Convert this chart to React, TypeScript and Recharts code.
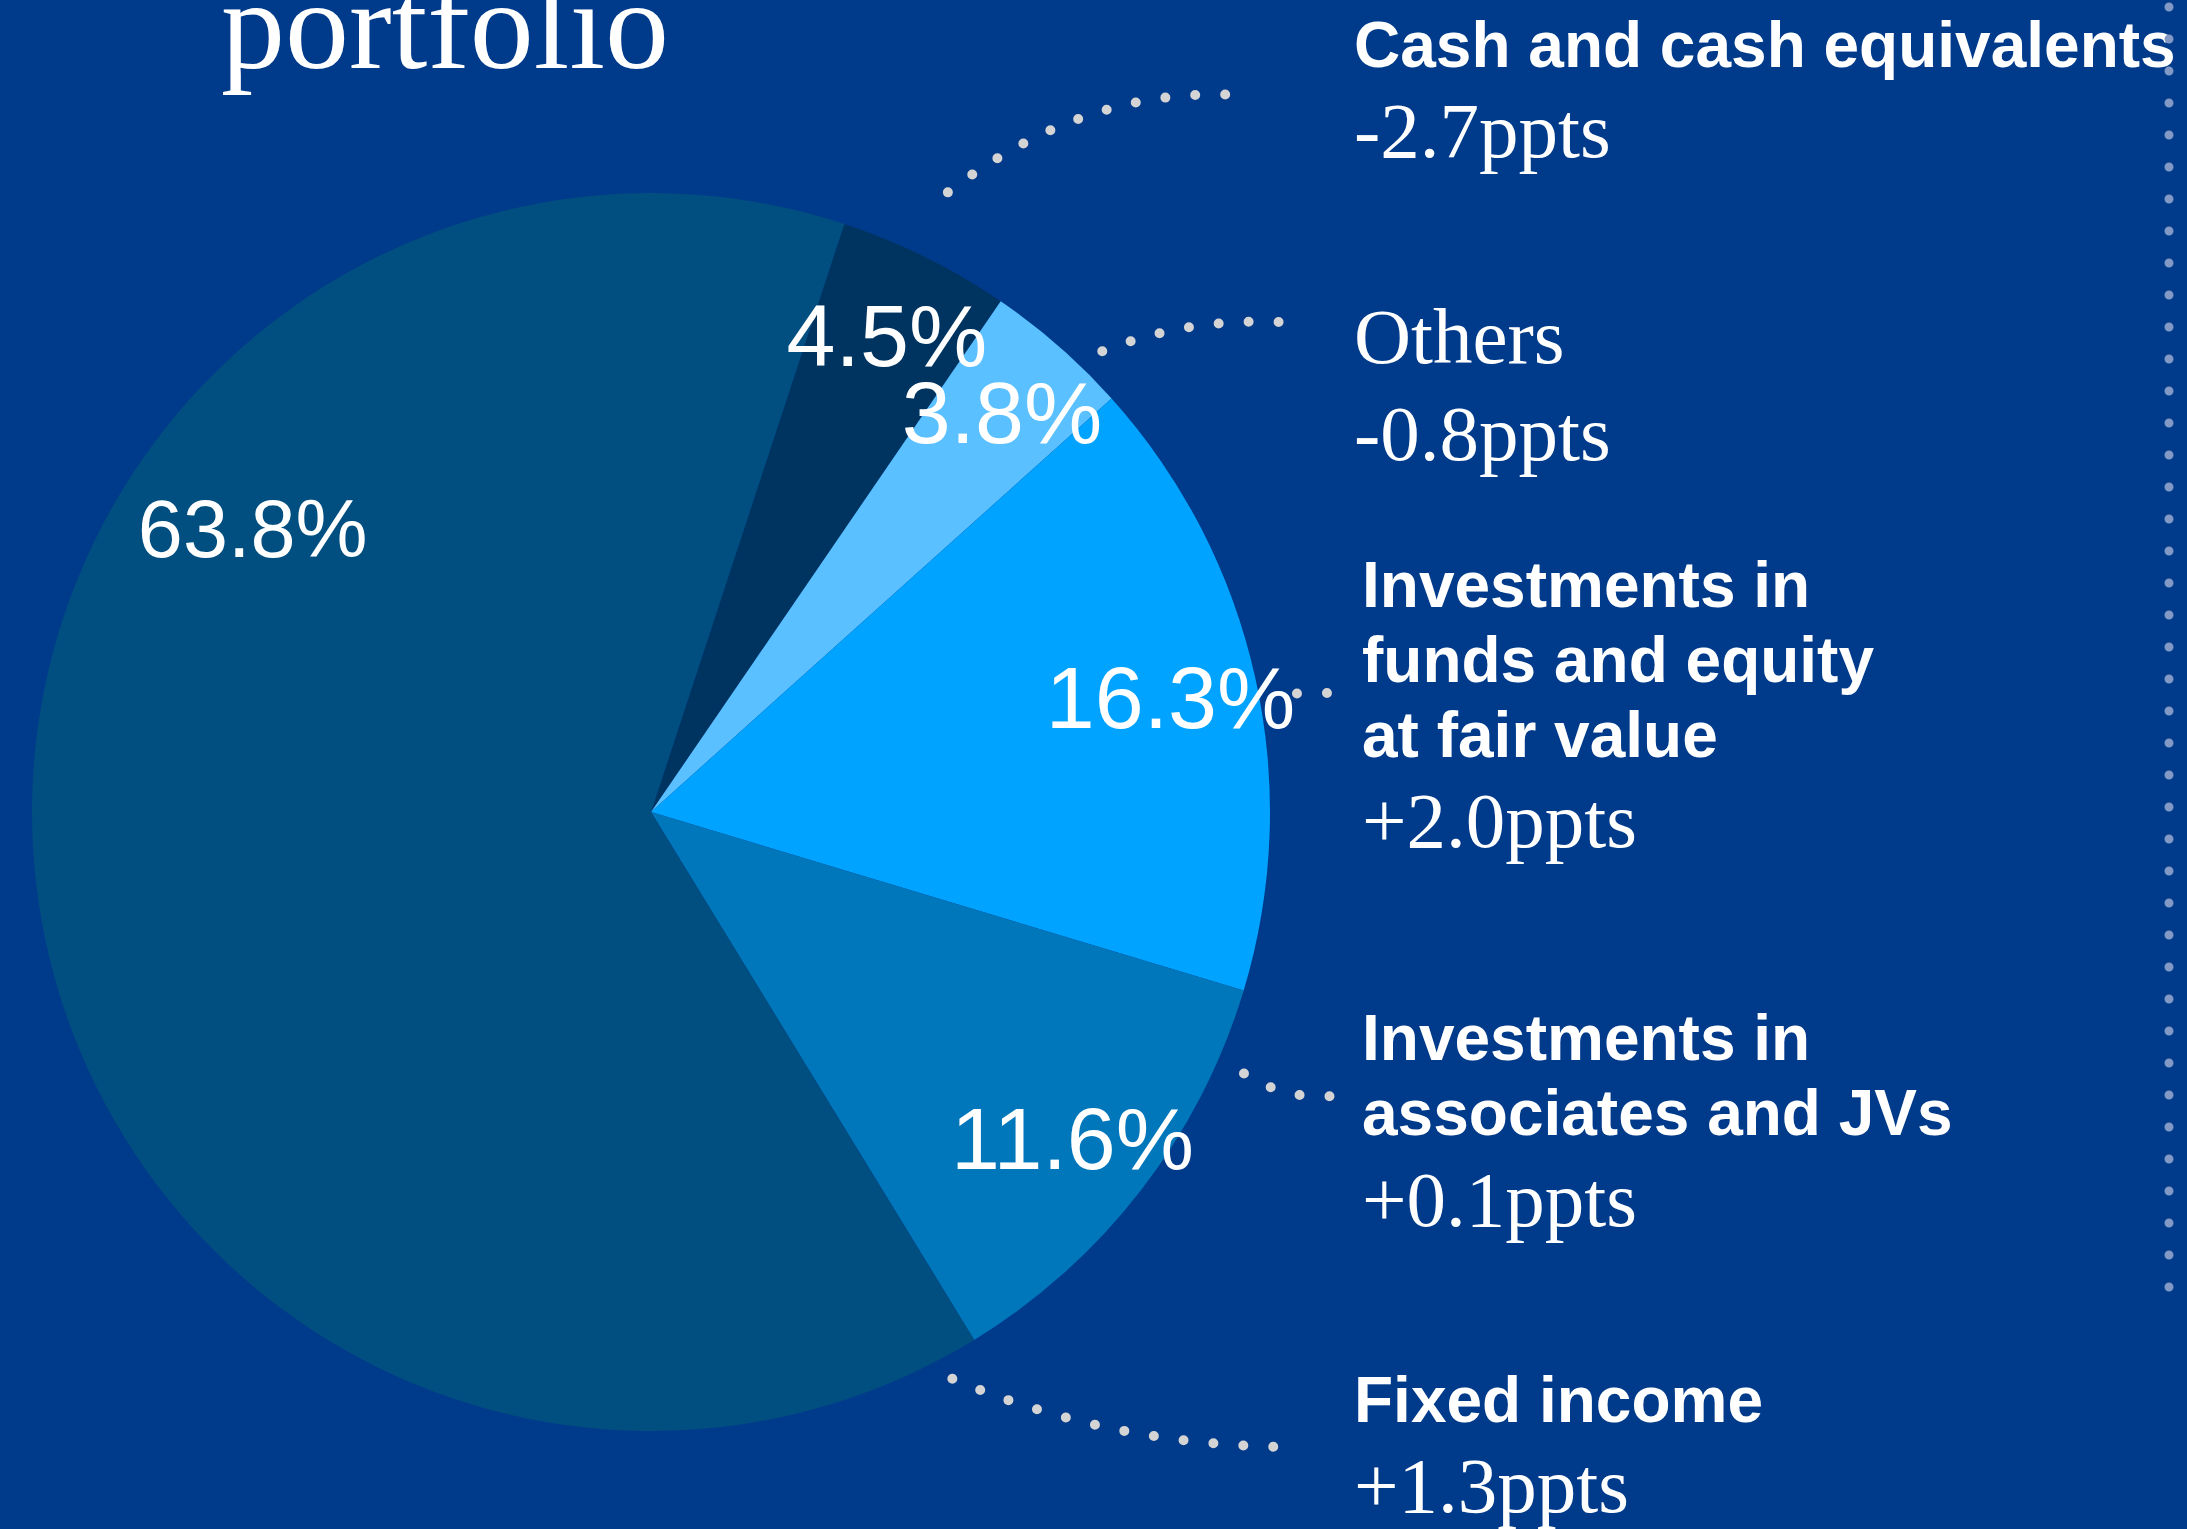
import React from 'react';
import { PieChart, Pie, Cell } from 'recharts';

// Portfolio composition, share of total (%) and change vs previous period
const CATEGORIES = [
    'Cash and cash equivalents',
    'Others',
    'Investments in funds and equity at fair value',
    'Investments in associates and JVs',
    'Fixed income',
];
const SHARES = [4.5, 3.8, 16.3, 11.6, 63.8];
const CHANGES = ['-2.7ppts', '-0.8ppts', '+2.0ppts', '+0.1ppts', '+1.3ppts'];
const NAME_LINES = [
    ['Cash and cash equivalents'],
    ['Others'],
    ['Investments in', 'funds and equity', 'at fair value'],
    ['Investments in', 'associates and JVs'],
    ['Fixed income'],
];

const COLORS = ['#003460', '#5BC0FF', '#00A3FF', '#0076BB', '#004F80'];
const BG = '#003A8A';
const DOT = '#D4D4D4';

const W = 2187;
const H = 1529;
const SANS = '"Liberation Sans", Arial, Helvetica, sans-serif';
const SERIF = '"Liberation Serif", "Times New Roman", serif';

// percentage label placement (radius factor, angle shift from mid angle)
const PCT_LAYOUT = [
    { rf: 0.86, shift: 0, size: 88 },
    { rf: 0.86, shift: 0, size: 88 },
    { rf: 0.86, shift: 0, size: 88 },
    { rf: 0.86, shift: 0, size: 88 },
    { rf: 0.79, shift: -42.1, size: 81 },
];

// side text block for each slice
const SIDE = [
    { x: 1354, nameY: 67, changeY: 157, serifName: false },
    { x: 1354, nameY: 363, changeY: 460, serifName: true },
    { x: 1362, nameY: 607, changeY: 847, serifName: false },
    { x: 1362, nameY: 1060, changeY: 1226, serifName: false },
    { x: 1354, nameY: 1422, changeY: 1512, serifName: false },
];

// dotted leaders: start on pie (clockwise deg from top, radius factor), end near side text
const LEADERS = [
    { theta: 25.6, rf: 1.11, gap: 102, dy: 29, bx: 0.47, by: -14 },
    { theta: 44.4, rf: 1.042, gap: 60, dy: -40, bx: 0.49, by: -8 },
    { theta: 79.6, rf: 1.061, gap: 31, dy: 86, bx: 0.5, by: 0 },
    { theta: 113.8, rf: 1.047, gap: 29, dy: 36, bx: 0.46, by: 4 },
    { theta: 152, rf: 1.037, gap: 57, dy: 25, bx: 0.47, by: 0 },
];

const RAD = Math.PI / 180;
const polar = (cx: number, cy: number, r: number, angle: number) => ({
    x: cx + Math.cos(-angle * RAD) * r,
    y: cy + Math.sin(-angle * RAD) * r,
});

const data = CATEGORIES.map((name, i) => ({ name, value: SHARES[i], change: CHANGES[i] }));

const renderLabel = (props: any) => {
    const { cx, cy, midAngle, outerRadius, index, value } = props;
    const pl = PCT_LAYOUT[index];
    const p = polar(cx, cy, outerRadius * pl.rf, midAngle + pl.shift);
    const side = SIDE[index];
    const ld = LEADERS[index];
    const s = polar(cx, cy, outerRadius * ld.rf, 90 - ld.theta);
    const e = { x: side.x - ld.gap, y: side.nameY + ld.dy };
    const c = { x: s.x + (e.x - s.x) * ld.bx, y: e.y + ld.by };

    return (
        <g key={`label-${index}`}>
            <path
                d={`M${s.x},${s.y} Q${c.x},${c.y} ${e.x},${e.y}`}
                fill="none"
                stroke={DOT}
                strokeWidth={10}
                strokeLinecap="round"
                strokeDasharray="0 30"
            />
            <text
                x={p.x}
                y={p.y + pl.size * 0.358}
                textAnchor="middle"
                fill="#fff"
                fontFamily={SANS}
                fontSize={pl.size}
            >
                {Number(value).toFixed(1)}%
            </text>
            {NAME_LINES[index].map((line, j) => (
                <text
                    key={j}
                    x={side.x}
                    y={side.nameY + j * 75}
                    fill="#fff"
                    fontFamily={side.serifName ? SERIF : SANS}
                    fontWeight={side.serifName ? 400 : 700}
                    fontSize={side.serifName ? 79 : 64}
                >
                    {line}
                </text>
            ))}
            <text x={side.x} y={side.changeY} fill="#fff" fontFamily={SERIF} fontSize={79}>
                {CHANGES[index]}
            </text>
        </g>
    );
};

const App: React.FC = () => {
    return (
        <div style={{ position: 'absolute', left: 0, top: 0, width: W, height: H, background: BG, overflow: 'hidden' }}>
            <PieChart width={W} height={H} margin={{ top: 0, right: 0, bottom: 0, left: 0 }}>
                <Pie
                    data={data}
                    dataKey="value"
                    nameKey="name"
                    cx={651}
                    cy={812}
                    outerRadius={619}
                    startAngle={71.8}
                    endAngle={-288.2}
                    stroke="none"
                    label={renderLabel}
                    labelLine={false}
                    isAnimationActive={false}
                >
                    {data.map((entry, index) => (
                        <Cell key={`cell-${index}`} fill={COLORS[index]} />
                    ))}
                </Pie>
            </PieChart>
            <svg width={W} height={H} style={{ position: 'absolute', left: 0, top: 0, pointerEvents: 'none' }}>
                <text x={221} y={68} fill="#fff" fontFamily={SERIF} fontSize={128}>
                    portfolio
                </text>
                <path
                    d="M2169,7 L2169,1292"
                    stroke="#8299C6"
                    strokeWidth={9}
                    strokeLinecap="round"
                    strokeDasharray="0 32"
                />
            </svg>
        </div>
    );
};

export default App;
